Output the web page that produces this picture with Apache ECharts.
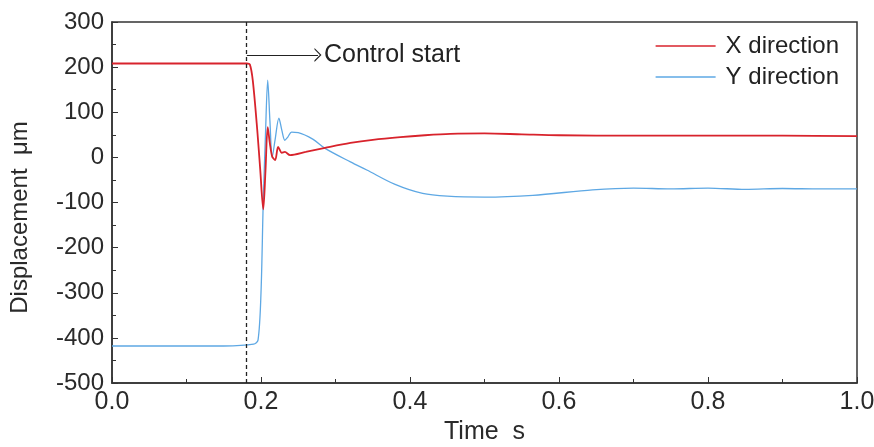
<!DOCTYPE html>
<html><head><meta charset="utf-8">
<script src="https://cdn.jsdelivr.net/npm/echarts@6/dist/echarts.min.js"></script>
<style>html,body{margin:0;padding:0;background:#fff}#c{width:874px;height:447px}</style>
</head><body><div id="c"></div>
<script>
// Time (s) samples and values (µm)
const xTime = [0, 0.05, 0.1, 0.15, 0.181, 0.185, 0.189, 0.195, 0.199, 0.203, 0.206, 0.209, 0.212, 0.215, 0.219, 0.223, 0.228, 0.232, 0.239, 0.26, 0.286, 0.32, 0.35, 0.387, 0.42, 0.454, 0.5, 0.55, 0.6, 0.7, 0.8, 0.9, 1.0];
const xDirection = [208, 208, 208, 208, 208, 206, 170, 60, -28, -115, -30, 67, 30, 2, -6, 23, 10, 12, 5, 12, 21, 32, 39, 45, 49, 52, 53, 51, 49, 48, 48, 48, 47];

const yTime = [0, 0.05, 0.1, 0.15, 0.19, 0.196, 0.2, 0.203, 0.206, 0.209, 0.212, 0.215, 0.219, 0.224, 0.228, 0.232, 0.236, 0.241, 0.25, 0.27, 0.286, 0.32, 0.342, 0.38, 0.417, 0.45, 0.5, 0.565, 0.645, 0.7, 0.75, 0.8, 0.85, 0.9, 0.95, 1.0];
const yDirection = [-418, -418, -418, -418, -414, -405, -300, -100, 50, 171, 80, 0, 40, 87, 60, 38, 45, 56, 55, 40, 20, -10, -28, -60, -80, -86, -88, -84, -72, -68, -70, -68, -71, -69, -70, -70];

const controlStart = 0.181;
const arrowEnd = 0.2765;
const arrowLevel = 227;

const seriesNames = ['X direction', 'Y direction'];
const yTicks = {min: -500, max: 300, interval: 100};
const xTicks = {min: 0, max: 1, interval: 0.2};

const zip = (a, b) => a.map((t, i) => [t, b[i]]);
const font = 'Liberation Sans, Arial, sans-serif';
const chevron = 'path://M0,12 L8,0 L16,12 L14.2,12 L8,2.8 L1.8,12 Z';

const chart = echarts.init(document.getElementById('c'));
chart.setOption({
  animation: false,
  backgroundColor: '#fff',
  grid: {left: 112, right: 17, top: 22, bottom: 64, show: true, borderColor: '#333', borderWidth: 1.5, outerBoundsMode: 'none', containLabel: false},
  legend: {
    orient: 'vertical', right: 30, top: 29, itemGap: 7, itemWidth: 60, itemHeight: 1.5, icon: 'rect',
    textStyle: {fontFamily: font, fontSize: 24, color: '#222', padding: [0, 0, 0, 5]},
    data: seriesNames
  },
  xAxis: {
    type: 'value', min: xTicks.min, max: xTicks.max, interval: xTicks.interval,
    name: 'Time  s', nameLocation: 'middle', nameGap: 33,
    nameTextStyle: {fontFamily: font, fontSize: 25, color: '#2a2a2a'},
    axisLine: {onZero: false, lineStyle: {color: '#333', width: 1.5}},
    axisTick: {inside: true, length: 6, lineStyle: {color: '#333'}},
    minorTick: {show: true, splitNumber: 2, length: 4, lineStyle: {color: '#333'}},
    axisLabel: {fontFamily: font, fontSize: 25, color: '#2a2a2a', margin: 7, formatter: v => v.toFixed(1)},
    splitLine: {show: false}
  },
  yAxis: {
    type: 'value', min: yTicks.min, max: yTicks.max, interval: yTicks.interval,
    name: 'Displacement  \u03bcm', nameLocation: 'middle', nameGap: 80,
    nameTextStyle: {fontFamily: font, fontSize: 24, color: '#2a2a2a', padding: [0, 30, 0, 0]},
    axisLine: {onZero: false, lineStyle: {color: '#333', width: 1.5}},
    axisTick: {inside: true, length: 6, lineStyle: {color: '#333'}},
    minorTick: {show: true, splitNumber: 2, length: 4, lineStyle: {color: '#333'}},
    axisLabel: {fontFamily: font, fontSize: 24, color: '#2a2a2a', margin: 8},
    splitLine: {show: false}
  },
  series: [
    {
      name: seriesNames[0], type: 'line', data: zip(xTime, xDirection), showSymbol: false, smooth: 0.3,
      lineStyle: {color: '#d8232c', width: 1.8}, itemStyle: {color: '#d8232c'}, z: 3,
      markLine: {
        silent: true, animation: false, symbol: ['none', 'none'],
        lineStyle: {color: '#222', width: 1.2, type: 'solid'},
        label: {show: false},
        data: [
          {xAxis: controlStart, lineStyle: {type: [4, 3], color: '#222', width: 1.3}},
          [
            {coord: [controlStart, arrowLevel], symbol: 'none', lineStyle: {type: 'solid', color: '#222', width: 1.2}},
            {coord: [arrowEnd, arrowLevel], symbol: chevron, symbolSize: [14, 7],
             label: {show: true, position: 'end', formatter: 'Control start', fontFamily: font, fontSize: 25, color: '#222', distance: 6}}
          ]
        ]
      }
    },
    {
      name: seriesNames[1], type: 'line', data: zip(yTime, yDirection), showSymbol: false, smooth: 0.3,
      lineStyle: {color: '#5ea8e4', width: 1.3}, itemStyle: {color: '#5ea8e4'}, z: 2
    }
  ]
});
</script></body></html>
